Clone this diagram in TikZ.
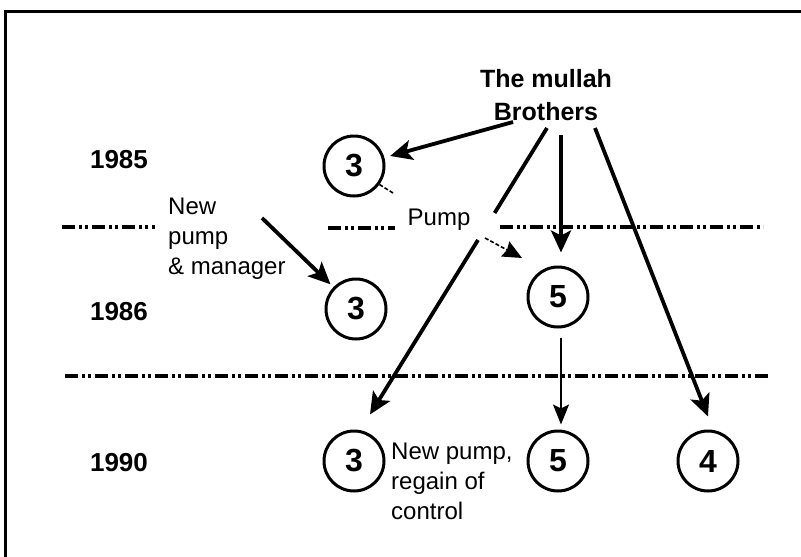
\documentclass[tikz,border=0pt]{standalone}
\usepackage{fontspec}
\setmainfont{Liberation Sans}
\usetikzlibrary{arrows.meta,calc}
\begin{document}
\begin{tikzpicture}[x=1pt,y=-1pt,
  circ/.style={draw, circle, line width=3pt, minimum size=60pt, inner sep=0pt, font=\fontsize{32}{32}\selectfont\bfseries},
  yr/.style={font=\fontsize{26}{26}\selectfont\bfseries, anchor=base},
  lbl/.style={font=\fontsize{24}{30}\selectfont, align=left, inner sep=0pt},
  arr/.style={line width=3.8pt, -{Stealth[length=22pt,width=20pt,inset=5pt]}},
  arrthin/.style={line width=2.4pt, -{Stealth[length=20pt,width=16pt,inset=4pt]}},
  sep/.style={line width=3.4pt, dash pattern=on 13pt off 4pt on 3pt off 3pt on 3pt off 4pt},
  pumpline/.style={line width=1.6pt, dash pattern=on 4pt off 2pt}
]
\useasboundingbox (0,0) rectangle (801,557);
% frame
\draw[line width=3pt] (5.5,557) -- (5.5,11) -- (801,11);
% separators
\draw[sep] (62,227) -- (155,227);
\draw[sep] (328,228) -- (395,228);
\draw[sep] (500,227) -- (763,227);
\draw[sep] (65,376) -- (770,376);
% texts
\node[font=\fontsize{25}{33}\selectfont\bfseries, align=center, inner sep=0pt] (bros) at (546,95) {The mullah\\Brothers};
\node[yr] (y85) at (119,168) {1985};
\node[yr] (y86) at (119,320) {1986};
\node[yr] (y90) at (119,471) {1990};
\node[font=\fontsize{24}{24}\selectfont, anchor=base] (pump) at (439,225) {Pump};
\node[lbl, anchor=west] (npm) at (168,238.5) {New\\pump\\\& manager};
\node[lbl, anchor=west] (npr) at (391,481) {New pump,\\regain of\\control};
% circles
\node[circ] (c3a) at (354,166) {3};
\node[circ] (c3b) at (356,309) {3};
\node[circ] (c5b) at (558,297) {5};
\node[circ] (c3c) at (354,461) {3};
\node[circ] (c5c) at (558,461) {5};
\node[circ] (c4) at (708,461) {4};
% coordinates
\coordinate (s1) at (513,122);
\coordinate (s2) at (547,128);
\coordinate (s3) at (561,135);
\coordinate (s4) at (595,128);
\coordinate (s5) at (262,218);
\coordinate (g1) at (494.6,213);
\coordinate (g2) at (478,240);
\coordinate (p1) at (393,193);
\coordinate (p2) at (485,238);
\coordinate (pt) at (522,258);
\coordinate (t5b) at ([yshift=13pt]c5b.north);
\coordinate (t5c) at ([yshift=5pt]c5c.north);
% connectors
\draw[arr, shorten >=6pt] (s1) -- (c3a);
\draw[line width=3.8pt] (s2) -- (g1);
\draw[arr] (g2) -- ([xshift=16pt,yshift=15pt]c3c.north);
\draw[arr] (s3) -- (s3 |- t5b);
\draw[arr] (s4) -- ([yshift=13pt]c4.north);
\draw[arrthin, shorten <=9pt] (c5b.south -| s3) -- (t5c -| s3);
\draw[arr, shorten >=4pt] (s5) -- (c3b);
\draw[pumpline] (c3a.-36) -- (p1);
\draw[pumpline, -{Stealth[length=19pt,width=17pt,inset=2pt]}] (p2) -- (pt);
\end{tikzpicture}
\end{document}
